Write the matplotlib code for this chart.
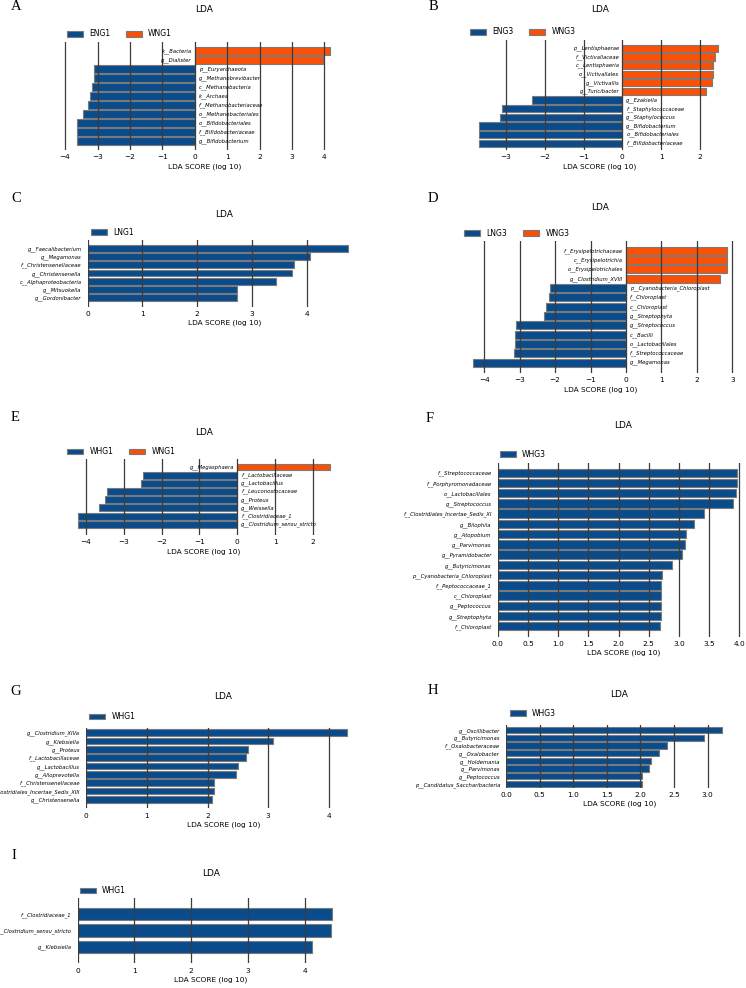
import numpy as np
import matplotlib
matplotlib.use('Agg')
from matplotlib import pyplot as plt
from matplotlib.patches import Patch

W, H = 746, 988
BLUE = '#0a4b8c'
ORANGE = '#fa5005'
EDGE = '#7a7a7a'
GRID = '#3c3c3c'

# ---- data (top row first) ----
a_groups = ['ENG1', 'WNG1']
a_names = ['k__Bacteria', 'g__Dialister', 'p__Euryarchaeota', 'g__Methanobrevibacter',
           'c__Methanobacteria', 'k__Archaea', 'f__Methanobacteriaceae',
           'o__Methanobacteriales', 'o__Bifidobacteriales', 'f__Bifidobacteriaceae',
           'g__Bifidobacterium']
a_scores = [4.18, 3.97, -3.11, -3.12, -3.17, -3.24, -3.28, -3.45, -3.63, -3.63, -3.63]

b_groups = ['ENG3', 'WNG3']
b_names = ['p__Lentisphaerae', 'f__Victivallaceae', 'c__Lentisphaeria', 'o__Victivallales',
           'g__Victivallis', 'g__Turicibacter', 'g__Ezakiella', 'f__Staphylococcaceae',
           'g__Staphylococcus', 'g__Bifidobacterium', 'o__Bifidobacteriales',
           'f__Bifidobacteriaceae']
b_scores = [2.47, 2.39, 2.35, 2.35, 2.31, 2.16, -2.32, -3.11, -3.16, -3.69, -3.69, -3.69]

c_groups = ['LNG1']
c_names = ['g__Faecalibacterium', 'g__Megamonas', 'f__Christensenellaceae',
           'g__Christensenella', 'c__Alphaproteobacteria', 'g__Mitsuokella',
           'g__Gordonibacter']
c_scores = [4.75, 4.06, 3.77, 3.73, 3.44, 2.72, 2.72]

d_groups = ['LNG3', 'WNG3']
d_names = ['f__Erysipelotrichaceae', 'c__Erysipelotrichia', 'o__Erysipelotrichales',
           'g__Clostridium_XVIII', 'p__Cyanobacteria_Chloroplast', 'f__Chloroplast',
           'c__Chloroplast', 'g__Streptophyta', 'g__Streptococcus', 'c__Bacilli',
           'o__Lactobacillales', 'f__Streptococcaceae', 'g__Megamonas']
d_scores = [2.84, 2.84, 2.84, 2.65, -2.15, -2.16, -2.25, -2.31, -3.11, -3.13, -3.14,
            -3.16, -4.31]

e_groups = ['WHG1', 'WNG1']
e_names = ['g__Megasphaera', 'f__Lactobacillaceae', 'g__Lactobacillus',
           'f__Leuconostocaceae', 'g__Proteus', 'g__Weissella', 'f__Clostridiaceae_1',
           'g__Clostridium_sensu_stricto']
e_scores = [2.44, -2.49, -2.55, -3.45, -3.5, -3.65, -4.2, -4.2]

f_groups = ['WHG3']
f_names = ['f__Streptococcaceae', 'f__Porphyromonadaceae', 'o__Lactobacillales',
           'g__Streptococcus', 'f__Clostridiales_Incertae_Sedis_XI', 'g__Bilophila',
           'g__Atopobium', 'g__Parvimonas', 'g__Pyramidobacter', 'g__Butyricimonas',
           'p__Cyanobacteria_Chloroplast', 'f__Peptococcaceae_1', 'c__Chloroplast',
           'g__Peptococcus', 'g__Streptophyta', 'f__Chloroplast']
f_scores = [3.96, 3.96, 3.94, 3.90, 3.41, 3.25, 3.11, 3.10, 3.05, 2.88, 2.72, 2.71,
            2.70, 2.70, 2.70, 2.68]

g_groups = ['WHG1']
g_names = ['g__Clostridium_XIVa', 'g__Klebsiella', 'g__Proteus', 'f__Lactobacillaceae',
           'g__Lactobacillus', 'g__Alloprevotella', 'f__Christensenellaceae',
           'f__Clostridiales_Incertae_Sedis_XIII', 'g__Christensenella']
g_scores = [4.31, 3.08, 2.67, 2.64, 2.51, 2.47, 2.11, 2.10, 2.07]

h_groups = ['WHG3']
h_names = ['g__Oscillibacter', 'g__Butyricimonas', 'f__Oxalobacteraceae', 'g__Oxalobacter',
           'g__Holdemania', 'g__Parvimonas', 'g__Peptococcus',
           'p__Candidatus_Saccharibacteria']
h_scores = [3.21, 2.94, 2.39, 2.27, 2.16, 2.13, 2.02, 2.02]

i_groups = ['WHG1']
i_names = ['f__Clostridiaceae_1', 'g__Clostridium_sensu_stricto', 'g__Klebsiella']
i_scores = [4.48, 4.46, 4.13]

# ---- layout, in pixels of the 746x988 picture ----
panels = [
    ('A', a_names, a_scores, a_groups,
     dict(zero=194.7, unit=32.4, xlim=(-4.3, 4.9), top=41.7, bottom=150, pa=1.0, pb=1.03,
          ticks=range(-4, 5), title=(203.7, 10), leg=(66.7, 34), let=(11, 7), bh=0.84)),
    ('B', b_names, b_scores, b_groups,
     dict(zero=622.3, unit=38.8, xlim=(-3.9, 2.75), top=40, bottom=150, pa=0.78, pb=0.96,
          ticks=range(-3, 3), title=(600, 9), leg=(470, 32), let=(429, 7), bh=0.84)),
    ('C', c_names, c_scores, c_groups,
     dict(zero=87.7, unit=54.75, xlim=(0, 5.0), top=240, bottom=306.7, pa=1.09, pb=1.0,
          ticks=range(0, 5), title=(224.3, 214.3), leg=(91, 232.3), let=(11, 198.3), bh=0.82)),
    ('D', d_names, d_scores, d_groups,
     dict(zero=626, unit=35.43, xlim=(-4.5, 3.05), top=241, bottom=373, pa=1.11, pb=1.04,
          ticks=range(-4, 4), title=(600, 208), leg=(464.3, 233), let=(428, 198), bh=0.84)),
    ('E', e_names, e_scores, e_groups,
     dict(zero=237.3, unit=37.83, xlim=(-4.3, 2.5), top=459.3, bottom=535, pa=1.31, pb=0.94,
          ticks=range(-4, 3), title=(203.7, 432.7), leg=(67.3, 451.7), let=(11, 417.7), bh=0.84)),
    ('F', f_names, f_scores, f_groups,
     dict(zero=497.7, unit=60.4, xlim=(0, 4.16), top=462.7, bottom=636.5, pa=1.0, pb=0.98,
          ticks=np.arange(0, 4.01, 0.5), title=(623.3, 425), leg=(500, 454), let=(426, 418.3),
          bh=0.82)),
    ('G', g_names, g_scores, g_groups,
     dict(zero=86.3, unit=60.6, xlim=(0, 4.52), top=728.3, bottom=808.3, pa=1.08, pb=0.53,
          ticks=range(0, 5), title=(223.3, 696.7), leg=(89.3, 716.7), let=(10.7, 691.7),
          bh=0.82)),
    ('H', h_names, h_scores, h_groups,
     dict(zero=506, unit=67.2, xlim=(0, 3.37), top=725.4, bottom=787.7, pa=0.48, pb=0.6,
          ticks=np.arange(0, 3.01, 0.5), title=(619.3, 694), leg=(510, 713), let=(428, 690),
          bh=0.82)),
    ('I', i_names, i_scores, i_groups,
     dict(zero=77.7, unit=56.75, xlim=(0, 4.69), top=898.3, bottom=963.3, pa=1.01, pb=0.96,
          ticks=range(0, 5), title=(210.7, 873.3), leg=(80, 890.7), let=(11, 855), bh=0.76)),
]


def draw_panel(fig, letter, names, scores, groups, lay):
    n = len(names)
    x0, x1 = lay['xlim']
    left = lay['zero'] + x0 * lay['unit']
    width = (x1 - x0) * lay['unit']
    top, bot = lay['top'], lay['bottom']
    ax = fig.add_axes([left / W, 1 - bot / H, width / W, (bot - top) / H])
    y = np.arange(n)[::-1]
    two = len(groups) == 2
    cols = [ORANGE if (two and s > 0) else BLUE for s in scores]
    ax.barh(y, scores, height=lay['bh'], color=cols, edgecolor=EDGE, linewidth=0.8, zorder=2)
    ax.set_xlim(x0, x1)
    ax.set_ylim(-lay['pa'], n - 1 + lay['pb'])
    ticks = list(lay['ticks'])
    ax.set_xticks(ticks)
    for t in ticks:
        ax.axvline(t, color=GRID, lw=0.9, zorder=3)
    for s in ax.spines.values():
        s.set_visible(False)
    ax.tick_params(axis='x', length=0, pad=3.2, labelsize=5.3)
    ax.set_xlabel('LDA SCORE (log 10)', fontsize=5.3, labelpad=2)
    if two:
        ax.set_yticks([])
        for yy, nm, s in zip(y, names, scores):
            if s > 0:
                ax.annotate(nm, (0, yy), xytext=(-3, 0), textcoords='offset pixels',
                            ha='right', va='center', fontsize=3.8, style='italic', zorder=4)
            else:
                ax.annotate(nm, (0, yy), xytext=(4, 0), textcoords='offset pixels',
                            ha='left', va='center', fontsize=3.8, style='italic', zorder=4)
    else:
        ax.set_yticks(y)
        ax.set_yticklabels(names, fontsize=3.8, style='italic')
        ax.tick_params(axis='y', length=0, pad=4.3)
    handles = [Patch(facecolor=BLUE, edgecolor=EDGE, lw=0.8, label=groups[0])]
    if two:
        handles.append(Patch(facecolor=ORANGE, edgecolor=EDGE, lw=0.8, label=groups[1]))
    lx, ly = lay['leg']
    ax.legend(handles=handles, loc='center left', bbox_to_anchor=(lx / W, 1 - ly / H),
              bbox_transform=fig.transFigure, ncol=len(handles), frameon=False,
              borderpad=0, borderaxespad=0, fontsize=5.5, handlelength=2.1,
              handleheight=0.75, handletextpad=0.8, columnspacing=2.1)
    tx, ty = lay['title']
    fig.text(tx / W, 1 - ty / H, 'LDA', ha='center', va='center', fontsize=6.5)
    px, py = lay['let']
    fig.text(px / W, 1 - py / H, letter, ha='left', va='center', fontsize=10.5,
             family='Liberation Serif')
    return ax


fig = plt.figure(figsize=(W / 100, H / 100), dpi=100)
for letter, names, scores, groups, lay in panels:
    draw_panel(fig, letter, names, scores, groups, lay)
fig.savefig('out.png', dpi=100)
